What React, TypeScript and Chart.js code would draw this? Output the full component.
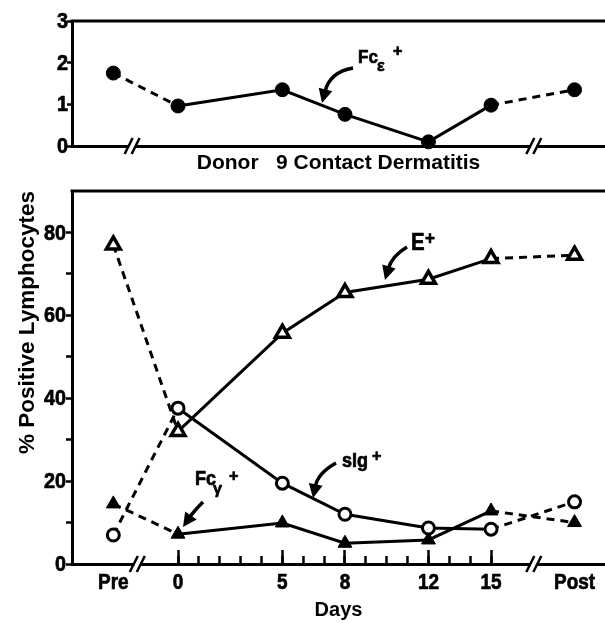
import React, { useEffect, useRef } from "react";
import { Chart, registerables } from "chart.js";
Chart.register(...registerables);

// ---- data ----
const categories = ["Pre", "0", "5", "8", "12", "15", "Post"];
const dayPositions = [-3.1, 0, 5, 8, 12, 15, 19];
const fcEpsilonPlus = [1.75, 0.96, 1.35, 0.76, 0.1, 0.98, 1.35];
const ePlus = [77, 32, 55.7, 65.5, 68.7, 73.7, 74.5];
const sIgPlus = [7, 37.6, 19.5, 12, 8.7, 8.4, 15];
const fcGammaPlus = [14.5, 7.2, 9.9, 5, 5.8, 12.8, 10];
const topYTicks = [0, 1, 2, 3];
const bottomYTicks = [0, 10, 20, 30, 40, 50, 60, 70, 80];
const bottomYLabels = [0, 20, 40, 60, 80];
const majorDays = [0, 5, 8, 12, 15];
const dayTicks = [0, 1, 2, 3, 4, 5, 6, 7, 8, 9, 10, 11, 12, 13, 14, 15];
const topBreaks = [-2.2, 17.05];
const bottomBreaks = [-1.95, 17.05];

const FONT = '"Liberation Sans", Arial, Helvetica, sans-serif';
const X_MIN = -5.08;
const X_MAX = 20.46;
const BLACK = "#000";

const dashSeg = (ctx: any) =>
  ctx.p0DataIndex === 0 || ctx.p1DataIndex === categories.length - 1 ? [8, 6] : undefined;

const pts = (vals: number[]) => vals.map((y, i) => ({ x: dayPositions[i], y }));

function ctext(
  ctx: any,
  s: string,
  x: number,
  y: number,
  size: number,
  align: string = "left",
  baseline: string = "alphabetic",
  sx: number = 0.88
) {
  ctx.save();
  ctx.setLineDash([]);
  ctx.font = `bold ${size}px ${FONT}`;
  ctx.textAlign = align;
  ctx.textBaseline = baseline;
  ctx.fillStyle = BLACK;
  ctx.strokeStyle = BLACK;
  ctx.lineWidth = 0.7;
  ctx.lineJoin = "round";
  ctx.translate(x, y);
  ctx.scale(sx, 1);
  ctx.fillText(s, 0, 0);
  ctx.strokeText(s, 0, 0);
  ctx.restore();
}

function drawTopFrame(chart: any) {
  const { ctx, chartArea } = chart;
  ctx.save();
  ctx.fillStyle = BLACK;
  ctx.fillRect(chartArea.left - 1.5, chartArea.top - 1.5, chartArea.right - chartArea.left + 1.5, 3);
  ctx.restore();
}

function drawBreaks(chart: any, breaks: number[]) {
  const { ctx, chartArea, scales } = chart;
  const y = chartArea.bottom;
  ctx.save();
  ctx.setLineDash([]);
  breaks.forEach((b) => {
    const px = scales.x.getPixelForValue(b);
    ctx.fillStyle = "#fff";
    ctx.fillRect(px - 3, y - 3, 6, 6);
    ctx.strokeStyle = BLACK;
    ctx.lineWidth = 2.5;
    [-3.5, 3.5].forEach((dx) => {
      ctx.beginPath();
      ctx.moveTo(px + dx - 4, y + 8);
      ctx.lineTo(px + dx + 4, y - 8);
      ctx.stroke();
    });
  });
  ctx.restore();
}

function drawYLabels(chart: any, values: number[], xRight: number) {
  const { ctx, scales } = chart;
  values.forEach((v) => {
    ctext(ctx, String(v), xRight, scales.y.getPixelForValue(v) + 1, 22, "right", "middle", 0.9);
  });
}

function arrow(ctx: any, x0: number, y0: number, cx: number, cy: number, x1: number, y1: number) {
  const dx = x1 - cx;
  const dy = y1 - cy;
  const L = Math.hypot(dx, dy);
  const ux = dx / L;
  const uy = dy / L;
  const head = 14;
  const hw = 7;
  const bx = x1 - ux * head;
  const by = y1 - uy * head;
  ctx.save();
  ctx.setLineDash([]);
  ctx.strokeStyle = BLACK;
  ctx.fillStyle = BLACK;
  ctx.lineWidth = 3.5;
  ctx.lineCap = "butt";
  ctx.beginPath();
  ctx.moveTo(x0, y0);
  ctx.quadraticCurveTo(cx, cy, bx + ux * 2, by + uy * 2);
  ctx.stroke();
  ctx.beginPath();
  ctx.moveTo(x1, y1);
  ctx.lineTo(bx - uy * hw, by + ux * hw);
  ctx.lineTo(bx + uy * hw, by - ux * hw);
  ctx.closePath();
  ctx.fill();
  ctx.restore();
}

const topDecor = {
  id: "topDecor",
  afterDraw(chart: any) {
    const { ctx } = chart;
    drawTopFrame(chart);
    drawBreaks(chart, topBreaks);
    drawYLabels(chart, topYTicks, 68);
    ctext(ctx, "Fc", 358, 63, 19, "left", "alphabetic", 0.9);
    ctext(ctx, "ε", 377, 71, 17, "left", "alphabetic", 0.95);
    ctext(ctx, "+", 393, 56, 17, "left", "alphabetic", 0.95);
    arrow(ctx, 353, 68, 330, 72, 322, 103);
  },
};

const bottomDecor = {
  id: "bottomDecor",
  afterDraw(chart: any) {
    const { ctx, chartArea, scales } = chart;
    drawTopFrame(chart);
    drawBreaks(chart, bottomBreaks);
    drawYLabels(chart, bottomYLabels, 66);
    dayPositions.forEach((d, i) => {
      ctext(ctx, categories[i], scales.x.getPixelForValue(d), chartArea.bottom + 25, 22, "center", "alphabetic", 0.86);
    });
    // E+
    ctext(ctx, "E", 411, 72, 24, "left", "alphabetic", 0.85);
    ctext(ctx, "+", 425, 66, 18, "left", "alphabetic", 0.95);
    arrow(ctx, 407, 69, 392, 78, 385, 102);
    // sIg+
    ctext(ctx, "sIg", 342, 289, 20, "left", "alphabetic", 0.9);
    ctext(ctx, "+", 372, 283, 17, "left", "alphabetic", 0.95);
    arrow(ctx, 336, 285, 318, 295, 313, 320);
    // Fcγ+
    ctext(ctx, "Fc", 195, 307, 20, "left", "alphabetic", 0.9);
    ctext(ctx, "γ", 213, 316, 17, "left", "alphabetic", 0.95);
    ctext(ctx, "+", 229, 303, 17, "left", "alphabetic", 0.95);
    arrow(ctx, 203, 324, 194, 333, 183, 349);
  },
};

export default function App() {
  const topRef = useRef<HTMLCanvasElement>(null);
  const botRef = useRef<HTMLCanvasElement>(null);

  useEffect(() => {
    const top = new Chart(topRef.current as HTMLCanvasElement, {
      type: "line",
      data: {
        datasets: [
          {
            label: "Fcε+",
            data: pts(fcEpsilonPlus),
            borderColor: BLACK,
            backgroundColor: BLACK,
            borderWidth: 3,
            pointStyle: "circle",
            pointRadius: 7,
            pointBackgroundColor: BLACK,
            pointBorderColor: BLACK,
            pointBorderWidth: 1,
            tension: 0,
            clip: false as any,
            segment: { borderDash: dashSeg },
          },
        ],
      },
      options: {
        responsive: false,
        animation: false,
        devicePixelRatio: 1,
        layout: { autoPadding: false, padding: { top: 21, left: 0, right: 0, bottom: 0 } },
        plugins: { legend: { display: false }, tooltip: { enabled: false }, title: { display: false } },
        scales: {
          x: {
            type: "linear",
            min: X_MIN,
            max: X_MAX,
            grid: { display: false },
            border: { display: true, color: BLACK, width: 3 },
            ticks: { display: false },
            title: {
              display: true,
              text: "Donor   9 Contact Dermatitis",
              color: BLACK,
              font: { family: FONT, size: 21, weight: "bold" },
              padding: { top: 0, bottom: 2 },
            },
            afterFit: (s: any) => {
              s.height = 32;
            },
          },
          y: {
            min: 0,
            max: 3,
            afterBuildTicks: (s: any) => {
              s.ticks = topYTicks.map((v) => ({ value: v }));
            },
            grid: { display: true, drawOnChartArea: false, drawTicks: true, tickLength: 5, tickWidth: 2.5, tickColor: BLACK },
            border: { display: true, color: BLACK, width: 3 },
            ticks: { display: false },
            afterFit: (s: any) => {
              s.width = 72;
            },
          },
        },
      },
      plugins: [topDecor],
    });

    const bottom = new Chart(botRef.current as HTMLCanvasElement, {
      type: "line",
      data: {
        datasets: [
          {
            label: "E+",
            data: pts(ePlus),
            borderColor: BLACK,
            borderWidth: 3,
            pointStyle: "triangle",
            pointRadius: 8,
            pointBackgroundColor: "#fff",
            pointBorderColor: BLACK,
            pointBorderWidth: 3.5,
            tension: 0,
            clip: false as any,
            segment: { borderDash: dashSeg },
          },
          {
            label: "sIg+",
            data: pts(sIgPlus),
            borderColor: BLACK,
            borderWidth: 3,
            pointStyle: "circle",
            pointRadius: 6,
            pointBackgroundColor: "#fff",
            pointBorderColor: BLACK,
            pointBorderWidth: 3,
            tension: 0,
            clip: false as any,
            segment: { borderDash: dashSeg },
          },
          {
            label: "Fcγ+",
            data: pts(fcGammaPlus),
            borderColor: BLACK,
            borderWidth: 3,
            pointStyle: "triangle",
            pointRadius: 8,
            pointBackgroundColor: BLACK,
            pointBorderColor: BLACK,
            pointBorderWidth: 1,
            tension: 0,
            clip: false as any,
            segment: { borderDash: dashSeg },
          },
        ],
      },
      options: {
        responsive: false,
        animation: false,
        devicePixelRatio: 1,
        layout: { autoPadding: false, padding: { top: 13, left: 0, right: 0, bottom: 0 } },
        plugins: { legend: { display: false }, tooltip: { enabled: false }, title: { display: false } },
        scales: {
          xMinor: {
            type: "linear",
            position: "bottom",
            weight: 0,
            min: X_MIN,
            max: X_MAX,
            afterBuildTicks: (s: any) => {
              s.ticks = dayTicks.map((v) => ({ value: v }));
            },
            grid: { display: true, drawOnChartArea: false, drawTicks: true, tickLength: -8, tickWidth: 2.5, tickColor: BLACK },
            border: { display: false },
            ticks: { display: false },
            afterFit: (s: any) => {
              s.height = 0;
            },
          },
          x: {
            type: "linear",
            position: "bottom",
            weight: 1,
            min: X_MIN,
            max: X_MAX,
            afterBuildTicks: (s: any) => {
              s.ticks = majorDays.map((v) => ({ value: v }));
            },
            grid: { display: true, drawOnChartArea: false, drawTicks: true, tickLength: -14, tickWidth: 2.5, tickColor: BLACK },
            border: { display: true, color: BLACK, width: 3 },
            ticks: { display: false },
            title: {
              display: true,
              text: "Days",
              color: BLACK,
              font: { family: FONT, size: 20, weight: "bold" },
              padding: { top: 0, bottom: 1 },
            },
            afterFit: (s: any) => {
              s.height = 59;
            },
          },
          y: {
            min: 0,
            max: 90,
            afterBuildTicks: (s: any) => {
              s.ticks = bottomYTicks.map((v) => ({ value: v }));
            },
            grid: { display: true, drawOnChartArea: false, drawTicks: true, tickLength: 6, tickWidth: 2.5, tickColor: BLACK },
            border: { display: true, color: BLACK, width: 3 },
            ticks: { display: false },
            title: {
              display: true,
              text: "% Positive Lymphocytes",
              align: "end",
              color: BLACK,
              font: { family: FONT, size: 22.5, weight: "bold" },
              padding: { top: 14.5, bottom: 0 },
            },
            afterFit: (s: any) => {
              s.width = 72;
            },
          },
        },
      },
      plugins: [bottomDecor],
    });

    return () => {
      top.destroy();
      bottom.destroy();
    };
  }, []);

  return (
    <div style={{ position: "absolute", left: 0, top: 0, width: 605, height: 623, background: "#fff", overflow: "hidden" }}>
      <canvas ref={topRef} width={605} height={178} style={{ position: "absolute", left: 0, top: 0 }} />
      <canvas ref={botRef} width={605} height={445} style={{ position: "absolute", left: 0, top: 178 }} />
    </div>
  );
}
